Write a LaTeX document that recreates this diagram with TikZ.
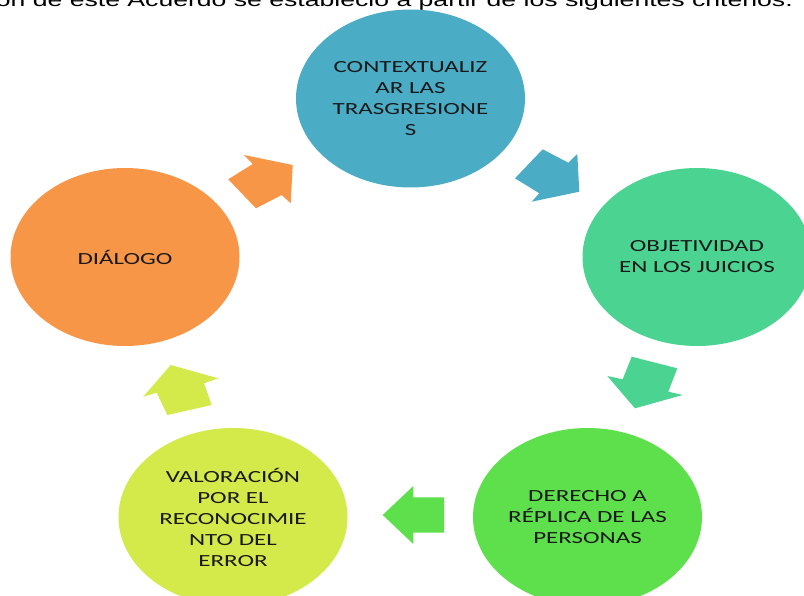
\documentclass[tikz,border=0pt]{standalone}
\usepackage{fontspec}
\usetikzlibrary{shapes.geometric}
\newfontfamily\lblfont[FakeStretch=1.47]{Carlito}
\newfontfamily\topfont[FakeStretch=1.43]{Liberation Sans}
\definecolor{cteal}{HTML}{4BACC6}
\definecolor{cmint}{HTML}{4AD391}
\definecolor{cgreen}{HTML}{5EE04C}
\definecolor{clime}{HTML}{D4E94A}
\definecolor{corange}{HTML}{F79646}
\tikzset{
  bubble/.style={ellipse, minimum width=229pt, minimum height=178pt, inner sep=0pt,
    align=center, text=black!90, font=\lblfont\fontsize{17}{21}\selectfont},
}
\begin{document}
\begin{tikzpicture}[x=1pt,y=-1pt]
\clip (0,0) rectangle (804,596);
\fill[white] (0,0) rectangle (804,596);
\node[anchor=base east, inner sep=0pt, font=\topfont\fontsize{18.6}{20}\selectfont] (head) at (793,7)
  {ón de este Acuerdo se estableció a partir de los siguientes criterios.};
\node[bubble, fill=cteal] (c1) at (410.5,98.5) {CONTEXTUALIZ\\AR LAS\\TRASGRESIONE\\S};
\node[bubble, fill=cmint] (c2) at (697,257) {OBJETIVIDAD\\EN LOS JUICIOS};
\node[bubble, fill=cgreen] (c3) at (587.5,517) {DERECHO A\\RÉPLICA DE LAS\\PERSONAS};
\node[bubble, fill=clime] (c4) at (233,517) {VALORACIÓN\\POR EL\\RECONOCIMIE\\NTO DEL\\ERROR};
\node[bubble, fill=corange] (c5) at (125,257) {DIÁLOGO};
% arrows
\fill[cteal] (515,178.3) -- (542.7,149.3) -- (568.3,162.7) -- (577.3,154) -- (579.3,191.7) -- (531.7,201.7) -- (539.3,193.3) -- cycle;
\fill[cmint] (631.7,356.7) -- (677.3,368.3) -- (668.3,391.7) -- (682.7,395) -- (635,408.3) -- (607.3,376) -- (622.7,379.3) -- cycle;
\fill[cgreen] (382.7,515) -- (413.3,486) -- (413.3,497.3) -- (444,497.3) -- (444,532.7) -- (413.3,532.7) -- (413.3,544) -- cycle;
\fill[clime] (143.3,396.7) -- (170.7,365) -- (218.3,378.3) -- (204,383.3) -- (211.7,405) -- (167.3,415) -- (156.7,392.7) -- cycle;
\fill[corange] (228.3,179.3) -- (252.7,164) -- (244,155) -- (292.7,165) -- (290.7,203.3) -- (281.7,195) -- (256,208.3) -- cycle;
\end{tikzpicture}
\end{document}
